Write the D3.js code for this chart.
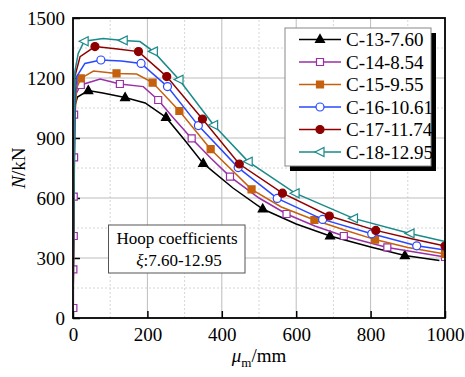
<!DOCTYPE html>
<html>
<head>
<meta charset="utf-8">
<script src="https://cdn.jsdelivr.net/npm/d3@7"></script>
<style>
  body { margin: 0; background: #fff; }
  svg text { font-family: "Liberation Serif", "Times New Roman", serif !important; fill: #000; }
</style>
</head>
<body>
<div id="chart"></div>
<script>
// series labels
const seriesNames = ["C-13-7.60", "C-14-8.54", "C-15-9.55", "C-16-10.61", "C-17-11.74", "C-18-12.95"];

// [displacement mm, load kN, marker flag]
const c13 = [[0,0,0],[2,900,0],[5,1060,0],[12,1105,0],[41,1137,1],[80,1125,0],[140,1102,1],[194,1075,0],
  [250,1003,1],[300,890,0],[350,773,1],[430,650,0],[510,545,1],[600,470,0],[691,410,1],[800,355,0],[892,312,1],[985,287,0]];
const c14 = [[0,0,0],[1,50,1],[1,243,1],[2,410,1],[2,607,1],[3,803,1],[3,1017,1],[8,1120,0],[21,1165,1],[73,1195,0],
  [126,1170,1],[189,1157,0],[229,1090,1],[270,1000,0],[319,898,1],[370,800,0],[422,707,1],[500,600,0],[574,520,1],
  [650,460,0],[728,410,1],[845,353,1],[1000,305,1]];
const c15 = [[0,0,0],[3,600,0],[5,1000,0],[10,1150,0],[21,1198,1],[55,1235,0],[117,1223,1],[171,1220,0],[214,1177,1],
  [286,1035,1],[370,844,1],[480,643,1],[560,555,0],[649,490,1],[730,440,0],[812,392,1],[900,352,0],[1000,320,1]];
const c16 = [[0,0,0],[3,700,0],[6,1100,0],[10,1207,0],[32,1273,0],[75,1290,1],[130,1285,0],[183,1273,1],[254,1157,1],
  [337,962,1],[444,752,1],[549,598,1],[671,493,1],[803,421,1],[924,361,1],[1000,340,0]];
const c17 = [[0,0,0],[3,700,0],[5,1207,0],[19,1307,0],[59,1357,1],[120,1345,0],[176,1332,1],[252,1207,1],[348,995,1],
  [447,770,1],[563,624,1],[689,510,1],[814,438,1],[910,396,0],[1000,360,1]];
const c18 = [[0,0,0],[3,700,0],[5,1232,0],[14,1323,0],[30,1384,1],[81,1398,0],[135,1388,1],[180,1382,0],[216,1333,1],
  [285,1192,1],[378,965,1],[471,782,1],[597,624,1],[754,498,1],[906,423,1],[1000,382,0]];
const seriesData = [c13, c14, c15, c16, c17, c18];

// axis ticks
const xTicks = [0, 200, 400, 600, 800, 1000];
const xMinor = [100, 300, 500, 700, 900];
const yTicks = [0, 300, 600, 900, 1200, 1500];
const yMinor = [150, 450, 750, 1050, 1350];

const colors = ["#000000", "#9a2fa6", "#c5600f", "#2a48ff", "#8e0000", "#1b8a8a"];
const shapes = ["triUp", "square", "square", "circle", "circle", "triLeft"];
const filled = [true, false, true, false, true, false];

const width = 465, height = 377;
const margin = { top: 18, right: 20, bottom: 59, left: 73 };
const serif = "'Liberation Serif', 'Times New Roman', serif";

const svg = d3.select("#chart").append("svg")
  .attr("width", width)
  .attr("height", height)
  .attr("font-family", serif);

const x = d3.scaleLinear().domain([0, 1000]).range([margin.left, width - margin.right]);
const y = d3.scaleLinear().domain([0, 1500]).range([height - margin.bottom, margin.top]);

// grid
const grid = svg.append("g");
grid.selectAll(".xminor").data(xMinor).enter().append("line")
  .attr("x1", d => x(d)).attr("x2", d => x(d))
  .attr("y1", y(0)).attr("y2", y(1500))
  .style("stroke", "#d6d6d6").style("stroke-dasharray", "2,2");
grid.selectAll(".yminor").data(yMinor).enter().append("line")
  .attr("x1", x(0)).attr("x2", x(1000))
  .attr("y1", d => y(d)).attr("y2", d => y(d))
  .style("stroke", "#d6d6d6").style("stroke-dasharray", "2,2");
grid.selectAll(".xmajor").data(xTicks.slice(1, -1)).enter().append("line")
  .attr("x1", d => x(d)).attr("x2", d => x(d))
  .attr("y1", y(0)).attr("y2", y(1500))
  .style("stroke", "#bdbdbd");
grid.selectAll(".ymajor").data(yTicks.slice(1, -1)).enter().append("line")
  .attr("x1", x(0)).attr("x2", x(1000))
  .attr("y1", d => y(d)).attr("y2", d => y(d))
  .style("stroke", "#bdbdbd");

// axes
const xAxis = svg.append("g")
  .attr("transform", `translate(0,${y(0)})`)
  .call(d3.axisBottom(x).tickValues(xTicks).tickFormat(d3.format("d"))
    .tickSize(-7).tickSizeOuter(0).tickPadding(10));
const yAxis = svg.append("g")
  .attr("transform", `translate(${x(0)},0)`)
  .call(d3.axisLeft(y).tickValues(yTicks).tickFormat(d3.format("d"))
    .tickSize(-7).tickSizeOuter(0).tickPadding(8));
[xAxis, yAxis].forEach(a => {
  a.attr("font-family", serif).attr("font-size", 19);
  a.select(".domain").remove();
  a.selectAll(".tick line").style("stroke", "#000").style("stroke-width", 1.5);
});

// clip to plot area
svg.append("clipPath").attr("id", "plotclip")
  .append("rect")
  .attr("x", x(0) + 1).attr("y", y(1500))
  .attr("width", x(1000) - x(0)).attr("height", y(0) - y(1500));

const symbolPath = (shape, cx, cy) => {
  if (shape === "triUp") return `M${cx},${cy - 5}L${cx + 4.5},${cy + 3}L${cx - 4.5},${cy + 3}Z`;
  if (shape === "triLeft") return `M${cx - 5},${cy}L${cx + 4},${cy - 4.5}L${cx + 4},${cy + 4.5}Z`;
  if (shape === "square") return `M${cx - 3.5},${cy - 3.5}h7v7h-7Z`;
  return `M${cx - 4},${cy}a4,4 0 1,0 8,0a4,4 0 1,0 -8,0Z`;
};

const line = d3.line().x(d => x(d[0])).y(d => y(d[1]));
const plot = svg.append("g").attr("clip-path", "url(#plotclip)");

seriesData.forEach((data, i) => {
  const g = plot.append("g");
  g.append("path").datum(data)
    .attr("d", line)
    .style("fill", "none")
    .style("stroke", colors[i])
    .style("stroke-width", 1.5);
  g.selectAll(".marker").data(data.filter(d => d[2] === 1)).enter()
    .append("path")
    .attr("d", d => symbolPath(shapes[i], x(d[0]), y(d[1])))
    .style("fill", filled[i] ? colors[i] : "#fff")
    .style("stroke", colors[i])
    .style("stroke-width", 1.2);
});

// frame
svg.append("rect")
  .attr("x", x(0)).attr("y", y(1500))
  .attr("width", x(1000) - x(0)).attr("height", y(0) - y(1500))
  .style("fill", "none").style("stroke", "#000").style("stroke-width", 1.8);

// axis titles
const xTitle = svg.append("text")
  .attr("x", (x(0) + x(1000)) / 2).attr("y", 362)
  .attr("text-anchor", "middle")
  .style("font-size", "19px");
xTitle.append("tspan").style("font-style", "italic").text("\u03bc");
xTitle.append("tspan").attr("dy", 5).style("font-size", "13px").text("m");
xTitle.append("tspan").attr("dy", -5).text("/mm");

const yTitle = svg.append("text")
  .attr("transform", `translate(25,${(y(0) + y(1500)) / 2}) rotate(-90)`)
  .attr("text-anchor", "middle")
  .style("font-size", "19px");
yTitle.append("tspan").style("font-style", "italic").text("N");
yTitle.append("tspan").text("/kN");

// legend
const legend = svg.append("g");
const lx = 285, ly = 28, lw = 146, lh = 138;
legend.append("rect").attr("x", lx + 5).attr("y", ly + 5).attr("width", lw).attr("height", lh)
  .style("fill", "#000");
legend.append("rect").attr("x", lx).attr("y", ly).attr("width", lw).attr("height", lh)
  .style("fill", "#fff").style("stroke", "#888").style("stroke-width", 1);
seriesNames.forEach((name, i) => {
  const cy = ly + 11.5 + i * 22.5;
  legend.append("line").attr("x1", lx + 14).attr("x2", lx + 56).attr("y1", cy).attr("y2", cy)
    .style("stroke", colors[i]).style("stroke-width", 1.5);
  legend.append("path").attr("d", symbolPath(shapes[i], lx + 35, cy))
    .style("fill", filled[i] ? colors[i] : "#fff")
    .style("stroke", colors[i]).style("stroke-width", 1.2);
  legend.append("text").attr("x", lx + 61).attr("y", cy).attr("dy", "0.35em")
    .style("font-size", "19px").text(name);
});

// annotation box
const note = svg.append("g");
note.append("rect").attr("x", 108.5).attr("y", 225).attr("width", 136.5).attr("height", 48)
  .style("fill", "#fff").style("stroke", "#555").style("stroke-width", 1);
note.append("text").attr("x", 177).attr("y", 244).attr("text-anchor", "middle")
  .style("font-size", "17px").text("Hoop coefficients");
const note2 = note.append("text").attr("x", 179).attr("y", 266).attr("text-anchor", "middle")
  .style("font-size", "17px");
note2.append("tspan").style("font-style", "italic").text("\u03be");
note2.append("tspan").text(":7.60-12.95");
</script>
</body>
</html>
